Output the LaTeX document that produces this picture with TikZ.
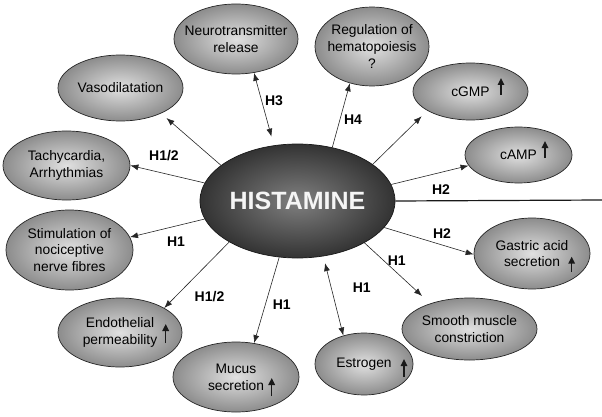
\documentclass[tikz,border=0pt]{standalone}
\usepackage{fontspec}
\setmainfont{Liberation Sans}
\usetikzlibrary{shapes.geometric,arrows.meta}
\definecolor{ovalhell}{gray}{0.88}
\definecolor{ovaldunkel}{gray}{0.55}
\definecolor{kernhell}{gray}{0.5}
\definecolor{kerndunkel}{gray}{0.2}
\begin{document}
\begin{tikzpicture}[x=1pt, y=-1pt,
	wirkung/.style={ellipse, draw=black!85, line width=0.7pt, inner color=ovalhell,
		outer color=ovaldunkel, inner xsep=-20pt, inner ysep=-10pt, align=center,
		font=\fontsize{13.8}{16.8}\selectfont},
	kern/.style={ellipse, draw=black!90, line width=0.7pt, inner color=kernhell,
		outer color=kerndunkel, inner sep=0pt, text=gray!8,
		font=\fontsize{25}{28}\selectfont\bfseries},
	rezeptor/.style={font=\fontsize{14}{16}\selectfont\bfseries},
	pfeil/.style={draw=black!85, line width=0.6pt, -{Latex[length=8pt,width=6pt]}},
	doppelpfeil/.style={draw=black!85, line width=0.6pt,
		{Latex[length=8pt,width=6pt]}-{Latex[length=8pt,width=6pt]}},
	hoch/.style={draw=black!90, line width=1.5pt, -{Triangle[length=7pt,width=6.5pt]}}]
	\useasboundingbox (0,0) rectangle (602,417);
	% Histamin in der Mitte
	\node[kern, minimum width=195pt, minimum height=114pt] (hist) at (297.5,201) {HISTAMINE};
	\coordinate (rand) at (602,200);
	\draw[draw=black!90, line width=1.2pt] (hist.east) -- (rand);
	% Wirkungen
	\node[wirkung, minimum width=124pt, minimum height=70pt] (neuro) at (236,39) {Neurotransmitter\\release};
	\node[wirkung, minimum width=114pt, minimum height=79pt] (reg) at (372,46.5) {Regulation of\\hematopoiesis\\?};
	\node[wirkung, minimum width=125pt, minimum height=66pt] (vaso) at (120.5,88) {Vasodilatation};
	\node[wirkung, minimum width=127pt, minimum height=69pt] (tachy) at (66.5,165.5) {Tachycardia,\\Arrhythmias};
	\node[wirkung, minimum width=115pt, minimum height=57pt] (cgmp) at (470.5,91.5) {cGMP};
	\node[wirkung, minimum width=107pt, minimum height=56pt] (camp) at (518.5,155) {cAMP};
	\node[wirkung, minimum width=127pt, minimum height=80pt] (stim) at (69.5,250) {Stimulation of\\nociceptive\\nerve fibres};
	\node[wirkung, minimum width=124pt, minimum height=69pt] (endo) at (120,332.5) {Endothelial\\permeability};
	\node[wirkung, minimum width=126pt, minimum height=70pt] (mucus) at (236,377) {Mucus\\secretion};
	\node[wirkung, minimum width=116pt, minimum height=71pt] (gastric) at (532,253.5) {Gastric acid\\secretion};
	\node[wirkung, minimum width=135pt, minimum height=62pt] (smooth) at (469.5,329) {Smooth muscle\\constriction};
	\node[wirkung, minimum width=98pt, minimum height=62pt] (estrogen) at (364,364) {Estrogen};
	% Pfeile nach oben
	\draw[hoch] ([shift={(30.5,3.5)}]cgmp.center) -- ++(0,-17);
	\draw[hoch] ([shift={(26.5,3)}]camp.center) -- ++(0,-17);
	\draw[hoch] ([shift={(45.7,10.5)}]endo.center) -- ++(0,-19);
	\draw[hoch] ([shift={(35.7,19)}]mucus.center) -- ++(0,-18);
	\draw[hoch] ([shift={(39.7,18.2)}]gastric.center) -- ++(0,-15);
	\draw[hoch] ([shift={(40,13)}]estrogen.center) -- ++(0,-18);
	% Verbindungen
	\draw[pfeil, shorten >=7pt] (hist.155.6) -- (vaso.-32);
	\draw[pfeil] (hist.169) -- (tachy.0);
	\draw[doppelpfeil, shorten <=9pt] (hist.113) -- (neuro.-62);
	\draw[pfeil] (hist.57) -- (reg.-121);
	\draw[pfeil, shorten >=8pt] (hist.26.4) -- (cgmp.204.7);
	\draw[pfeil] (hist.10.5) -- (camp.192.9);
	\draw[pfeil] (hist.191) -- (stim.12);
	\draw[pfeil] (hist.211.7) -- (endo.29);
	\draw[pfeil] (hist.252) -- (mucus.62.2);
	\draw[pfeil] (hist.-17) -- (gastric.181.5);
	\draw[pfeil, shorten >=11pt] (hist.-32) -- (smooth.147.4);
	\draw[doppelpfeil, shorten <=7pt] (hist.-65.3) -- (estrogen.126.6);
	% Rezeptoren
	\node[rezeptor] (h12o) at (164,156) {H1/2};
	\node[rezeptor] (h3) at (274,101) {H3};
	\node[rezeptor] (h4) at (353,120) {H4};
	\node[rezeptor] (h2o) at (441,190) {H2};
	\node[rezeptor] (h1s) at (176,242) {H1};
	\node[rezeptor] (h12u) at (209.5,297) {H1/2};
	\node[rezeptor] (h1m) at (281.7,304.5) {H1};
	\node[rezeptor] (h2u) at (442,234) {H2};
	\node[rezeptor] (h1g) at (396.7,260.5) {H1};
	\node[rezeptor] (h1e) at (361.7,287.5) {H1};
\end{tikzpicture}
\end{document}
